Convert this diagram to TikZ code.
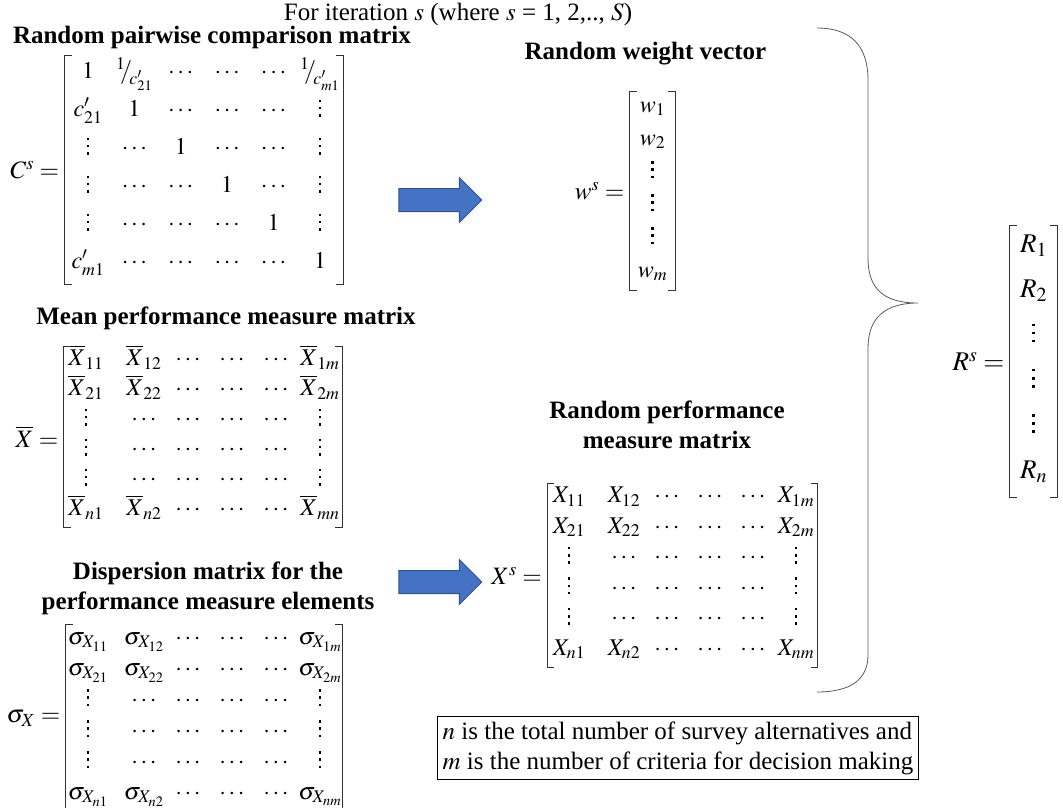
\documentclass[tikz,border=0pt]{standalone}
\usepackage{amsmath}
\usepackage{mathptmx}
\usepackage[no-math]{fontspec}
\setmainfont{Liberation Serif}
\usetikzlibrary{matrix,shapes.arrows}

\definecolor{arrowblue}{HTML}{4472C4}
\definecolor{arrowedge}{HTML}{2F528F}

% vertical dots that grow with the font size
\newcommand{\vdt}{\hbox{\rule{0.1em}{0.1em}}}
\newcommand{\vdts}{\vbox{\baselineskip=0.3em \lineskiplimit=0pt \kern0.2em\vdt\vdt\vdt}}
% slanted reciprocal 1/x
\newcommand{\recip}[1]{{}^{1}\!\!/\!_{#1}}

% square brackets round a matrix node
\newcommand{\sqbrackets}[1]{%
  \draw[brk] ([xshift=7pt]#1.north west) -- (#1.north west) -- (#1.south west) -- ([xshift=7pt]#1.south west);
  \draw[brk] ([xshift=-7pt]#1.north east) -- (#1.north east) -- (#1.south east) -- ([xshift=-7pt]#1.south east);}

\begin{document}
\begin{tikzpicture}[x=1pt,y=-1pt]
\tikzset{ttl/.style={font=\fontsize{25}{30}\selectfont\bfseries, align=center},
  txt/.style={font=\fontsize{25}{30}\selectfont},
  mat/.style 2 args={matrix of math nodes, inner sep=0pt, column sep=0pt, row sep=0pt,
    nodes={inner sep=0pt, minimum width=#1, minimum height=#2, text height=12pt, text depth=5pt, font=\fontsize{24}{28}\selectfont}},
  brk/.style={line width=0.7pt, black!80},
  bigarrow/.style={single arrow, draw=arrowedge, fill=arrowblue, line width=1pt, inner xsep=0pt, inner ysep=11pt, minimum height=83pt, single arrow head extend=11pt},
  brace/.style={line width=0.8pt, black!65}}
\useasboundingbox (0,0) rectangle (1063,807);
\clip (0,0) rectangle (1063,807);

\node[txt] (iter) at (458,14) {For iteration $s$ (where $s$ = 1, 2,.., $S$)};

% pairwise comparison matrix
\node[ttl] (ctitle) at (212,37) {Random pairwise comparison matrix};
\matrix (cmat) [mat={46.4pt}{38pt}] at (204,170) {
1 & \recip{c'_{21}} & \cdots & \cdots & \cdots & \recip{c'_{m1}} \\
c'_{21} & 1 & \cdots & \cdots & \cdots & \vdts \\
\vdts & \cdots & 1 & \cdots & \cdots & \vdts \\
\vdts & \cdots & \cdots & 1 & \cdots & \vdts \\
\vdts & \cdots & \cdots & \cdots & 1 & \vdts \\
c'_{m1} & \cdots & \cdots & \cdots & \cdots & 1 \\
};
\sqbrackets{cmat}
\node[txt, anchor=east] (clab) at ([xshift=-2pt]cmat.west) {$C^s =$};

% mean performance matrix
\node[ttl] (xbtitle) at (226,318) {Mean performance measure matrix};
\matrix (xbmat) [mat={44pt}{30pt}] at (203,437) {
\overline{X}_{11} &[14pt] \overline{X}_{12} & \cdots & \cdots & \cdots & \overline{X}_{1m} \\
\overline{X}_{21} & \overline{X}_{22} & \cdots & \cdots & \cdots & \overline{X}_{2m} \\
\vdts & \cdots & \cdots & \cdots & \cdots & \vdts \\
\vdts & \cdots & \cdots & \cdots & \cdots & \vdts \\
\vdts & \cdots & \cdots & \cdots & \cdots & \vdts \\
\overline{X}_{n1} & \overline{X}_{n2} & \cdots & \cdots & \cdots & \overline{X}_{mn} \\
};
\sqbrackets{xbmat}
\node[txt, anchor=east] (xblab) at ([xshift=-2pt]xbmat.west) {$\overline{X} =$};

% dispersion matrix
\node[ttl] (sgtitle) at (208,588) {Dispersion matrix for the\\performance measure elements};
\matrix (sgmat) [mat={44pt}{31pt}] at (204,718) {
\sigma_{X_{11}} &[12pt] \sigma_{X_{12}} & \cdots & \cdots & \cdots & \sigma_{X_{1m}} \\
\sigma_{X_{21}} & \sigma_{X_{22}} & \cdots & \cdots & \cdots & \sigma_{X_{2m}} \\
\vdts & \cdots & \cdots & \cdots & \cdots & \vdts \\
\vdts & \cdots & \cdots & \cdots & \cdots & \vdts \\
\vdts & \cdots & \cdots & \cdots & \cdots & \vdts \\
\sigma_{X_{n1}} & \sigma_{X_{n2}} & \cdots & \cdots & \cdots & \sigma_{X_{nm}} \\
};
\sqbrackets{sgmat}
\node[txt, anchor=east] (sglab) at ([xshift=-2pt]sgmat.west) {$\sigma_X =$};

% arrows
\node[bigarrow] (arrtop) at (434.5,200) {};
\node[bigarrow] (arrbot) at (434.5,582) {};

% weight vector
\node[ttl] (wtitle) at (645.5,54) {Random weight vector};
\matrix (wvec) [mat={45pt}{33pt}] at (652.5,191) {
w_1 \\ w_2 \\ \vdts \\ \vdts \\ \vdts \\ w_m \\
};
\sqbrackets{wvec}
\node[txt, anchor=east] (wlab) at ([xshift=-2pt]wvec.west) {$w^s =$};

% random performance matrix
\node[ttl] (xstitle) at (667,425) {Random performance\\measure matrix};
\matrix (xsmat) [mat={43pt}{30.5pt}] at (682.5,575.5) {
X_{11} &[12pt] X_{12} & \cdots & \cdots & \cdots & X_{1m} \\
X_{21} & X_{22} & \cdots & \cdots & \cdots & X_{2m} \\
\vdts & \cdots & \cdots & \cdots & \cdots & \vdts \\
\vdts & \cdots & \cdots & \cdots & \cdots & \vdts \\
\vdts & \cdots & \cdots & \cdots & \cdots & \vdts \\
X_{n1} & X_{n2} & \cdots & \cdots & \cdots & X_{nm} \\
};
\sqbrackets{xsmat}
\node[txt, anchor=east] (xslab) at ([xshift=-2pt]xsmat.west) {$X^s =$};

% brace gathering everything into R
\draw[brace] (817,28) .. controls (850,28) and (868,45) .. (868,80) -- (868,258)
  .. controls (868,290) and (885,303) .. (918,303)
  .. controls (885,303) and (868,318) .. (868,348) -- (868,655)
  .. controls (868,680) and (850,692) .. (817,692);

% result vector
\matrix (rvec) [mat={47pt}{45.2pt}, nodes={font=\fontsize{27}{31}\selectfont}] at (1033.5,361.5) {
R_1 \\ R_2 \\ \vdts \\ \vdts \\ \vdts \\ R_n \\
};
\sqbrackets{rvec}
\node[txt, anchor=east, font=\fontsize{27}{31}\selectfont] (rlab) at ([xshift=-2pt]rvec.west) {$R^s =$};

% note
\node[txt, draw, line width=0.8pt, align=left, inner sep=5pt] (note) at (678,748)
  {$n$ is the total number of survey alternatives and\\$m$ is the number of criteria for decision making};
\end{tikzpicture}
\end{document}
